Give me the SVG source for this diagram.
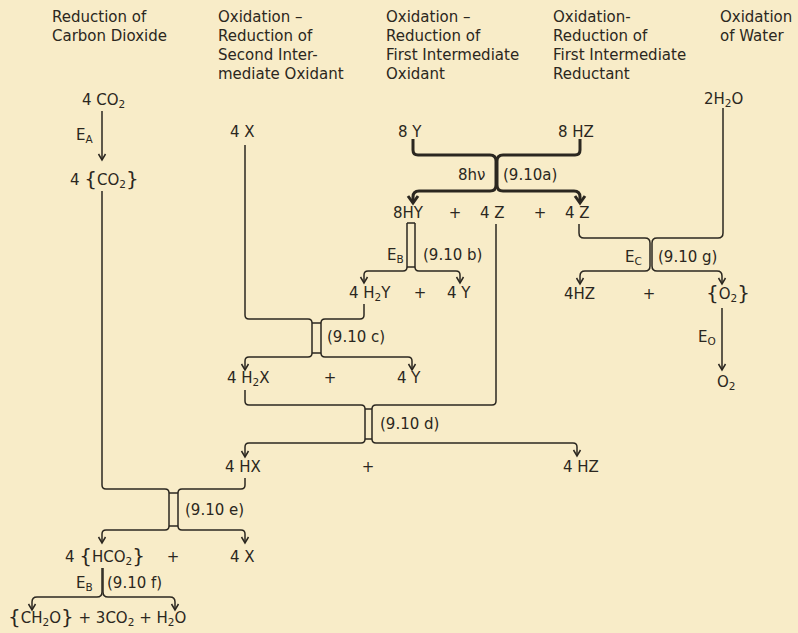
<svg xmlns="http://www.w3.org/2000/svg" width="798" height="633" viewBox="0 0 798 633">
<style>
text{font-family:"DejaVu Sans","Liberation Sans",sans-serif;fill:#2b2720}
.h{font-size:15px}
.c{font-size:15px}
.s{font-size:10.5px}
.b{font-size:20px}
.ln{fill:none;stroke:#2b2720;stroke-width:1.5;stroke-linejoin:round}
.tk{fill:none;stroke:#2b2720;stroke-width:3;stroke-linejoin:round}
.a{marker-end:url(#ar)}
.at{marker-end:url(#art)}
</style>
<defs>
<marker id="ar" markerUnits="userSpaceOnUse" markerWidth="12" markerHeight="12" viewBox="-8 -6 10 12" refX="0" refY="0" orient="auto">
<path d="M-6,-3.5 L0,0 L-6,3.5" fill="none" stroke="#2b2720" stroke-width="1.5"/>
</marker>
<marker id="art" markerUnits="userSpaceOnUse" markerWidth="14" markerHeight="14" viewBox="-10 -7 12 14" refX="0" refY="0" orient="auto">
<path d="M-7,-5 L0,0 L-7,5" fill="none" stroke="#2b2720" stroke-width="3"/>
</marker>
</defs>
<rect width="798" height="633" fill="#f8ecc8"/>

<g id="headers">
<text class="h" x="52" y="22">Reduction of</text>
<text class="h" x="52" y="41">Carbon Dioxide</text>
<text class="h" x="218" y="22">Oxidation –</text>
<text class="h" x="218" y="41">Reduction of</text>
<text class="h" x="218" y="60">Second Inter-</text>
<text class="h" x="218" y="79">mediate Oxidant</text>
<text class="h" x="386" y="22">Oxidation –</text>
<text class="h" x="386" y="41">Reduction of</text>
<text class="h" x="386" y="60">First Intermediate</text>
<text class="h" x="386" y="79">Oxidant</text>
<text class="h" x="553" y="22">Oxidation-</text>
<text class="h" x="553" y="41">Reduction of</text>
<text class="h" x="553" y="60">First Intermediate</text>
<text class="h" x="553" y="79">Reductant</text>
<text class="h" x="720" y="22">Oxidation</text>
<text class="h" x="720" y="41">of Water</text>
</g>

<g id="connectors">
<path class="ln a" d="M102,111 V160"/>
<path class="ln a" d="M102,191 V485 Q102,489 106,489 H165 Q169,489 169,493 V526 Q169,530 165,530 H106 Q102,530 102,534 V543"/>
<path class="ln a" d="M245,478 V485 Q245,489 241,489 H182 Q178,489 178,493 V526 Q178,530 182,530 H241 Q245,530 245,534 V543"/>
<path class="ln" d="M169,493 H178 M169,526 H178"/>

<path class="ln a" d="M245,145 V315 Q245,319 249,319 H308 Q312,319 312,323 V353 Q312,357 308,357 H249 Q245,357 245,361 V370"/>
<path class="ln a" d="M364,304 V315 Q364,319 360,319 H325 Q321,319 321,323 V353 Q321,357 325,357 H408 Q412,357 412,361 V370"/>
<path class="ln" d="M312,323 H321 M312,353 H321"/>

<path class="ln a" d="M245,390 V401 Q245,405 249,405 H361 Q365,405 365,409 V439 Q365,443 361,443 H249 Q245,443 245,447 V457"/>
<path class="ln a" d="M496,224 V401 Q496,405 492,405 H376 Q372,405 372,409 V439 Q372,443 376,443 H573 Q577,443 577,447 V456"/>
<path class="ln" d="M365,409 H372 M365,439 H372"/>

<path class="ln a" d="M407,223 V267 Q407,271 403,271 H368 Q364,271 364,275 V283"/>
<path class="ln a" d="M415,223 V267 Q415,271 419,271 H456 Q460,271 460,275 V283"/>
<path class="ln" d="M407,223 H415 M407,267 H415"/>

<path class="tk at" d="M413,139 V150 Q413,155 418,155 H490 Q496,155 496,161 V185 Q496,191 490,191 H419 Q413,191 413,197 V203"/>
<path class="tk at" d="M580,139 V150 Q580,155 575,155 H503 Q497,155 497,161 V185 Q497,191 503,191 H574 Q580,191 580,197 V203"/>

<path class="ln a" d="M579,224 V233 Q579,238 584,238 H645 Q650,238 650,243 V266 Q650,271 645,271 H585 Q580,271 580,276 V284"/>
<path class="ln a" d="M723,108 V233 Q723,238 718,238 H657 Q652,238 652,243 V266 Q652,271 657,271 H717 Q722,271 722,276 V284"/>

<path class="ln a" d="M722,308 V370"/>

<path class="ln a" d="M102,568 V592 Q102,597 97,597 H37 Q32,597 32,602 V610"/>
<path class="ln a" d="M103,568 V592 Q103,597 108,597 H170 Q175,597 175,602 V610"/>
</g>

<g id="n-4co2"><text class="c" x="82" y="105">4 CO<tspan class="s" dy="3">2</tspan></text></g>
<g id="l-ea"><text class="c" x="76" y="140">E<tspan class="s" dy="3">A</tspan></text></g>
<g id="n-4co2b"><text class="c" x="70" y="185">4 <tspan class="b" dy="1">{</tspan><tspan dy="-1">CO</tspan><tspan class="s" dy="3">2</tspan><tspan class="b" dy="-2">}</tspan></text></g>
<g id="n-4x"><text class="c" x="230" y="137">4 X</text></g>
<g id="n-8y"><text class="c" x="398" y="137">8 Y</text></g>
<g id="n-8hz"><text class="c" x="558" y="137">8 HZ</text></g>
<g id="n-2h2o"><text class="c" x="704" y="104">2H<tspan class="s" dy="3">2</tspan><tspan dy="-3">O</tspan></text></g>
<g id="l-a"><text class="c" x="458" y="180">8hν</text><text class="c" x="503" y="180">(9.10a)</text></g>
<g id="n-8hy"><text class="c" x="393" y="218">8HY</text><text class="c" x="455" y="218" text-anchor="middle">+</text></g>
<g id="n-4z1"><text class="c" x="480" y="218">4 Z</text><text class="c" x="540" y="218" text-anchor="middle">+</text></g>
<g id="n-4z2"><text class="c" x="565" y="218">4 Z</text></g>
<g id="l-b"><text class="c" x="387" y="260">E<tspan class="s" dy="3">B</tspan></text><text class="c" x="423" y="260">(9.10 b)</text></g>
<g id="l-g"><text class="c" x="625" y="262">E<tspan class="s" dy="3">C</tspan></text><text class="c" x="658" y="262">(9.10 g)</text></g>
<g id="n-4h2y"><text class="c" x="349" y="298">4 H<tspan class="s" dy="3">2</tspan><tspan dy="-3">Y</tspan></text><text class="c" x="420" y="298" text-anchor="middle">+</text></g>
<g id="n-4y1"><text class="c" x="447" y="298">4 Y</text></g>
<g id="n-4hz1"><text class="c" x="564" y="299">4HZ</text><text class="c" x="649" y="299" text-anchor="middle">+</text></g>
<g id="n-o2b"><text class="c" x="706" y="299"><tspan class="b" dy="1">{</tspan><tspan dy="-1">O</tspan><tspan class="s" dy="3">2</tspan><tspan class="b" dy="-2">}</tspan></text></g>
<g id="l-c"><text class="c" x="327" y="342">(9.10 c)</text></g>
<g id="l-eo"><text class="c" x="698" y="342">E<tspan class="s" dy="3">O</tspan></text></g>
<g id="n-4h2x"><text class="c" x="227" y="383">4 H<tspan class="s" dy="3">2</tspan><tspan dy="-3">X</tspan></text><text class="c" x="330" y="383" text-anchor="middle">+</text></g>
<g id="n-4y2"><text class="c" x="397" y="383">4 Y</text></g>
<g id="n-o2"><text class="c" x="717" y="387">O<tspan class="s" dy="3">2</tspan></text></g>
<g id="l-d"><text class="c" x="380" y="429">(9.10 d)</text></g>
<g id="n-4hx"><text class="c" x="225" y="472">4 HX</text><text class="c" x="368" y="472" text-anchor="middle">+</text></g>
<g id="n-4hz2"><text class="c" x="563" y="472">4 HZ</text></g>
<g id="l-e"><text class="c" x="185" y="515">(9.10 e)</text></g>
<g id="n-hco2"><text class="c" x="65" y="562">4 <tspan class="b" dy="1">{</tspan><tspan dy="-1">HCO</tspan><tspan class="s" dy="3">2</tspan><tspan class="b" dy="-2">}</tspan></text><text class="c" x="173" y="562" text-anchor="middle">+</text></g>
<g id="n-4x2"><text class="c" x="230" y="562">4 X</text></g>
<g id="l-f"><text class="c" x="76" y="588">E<tspan class="s" dy="3">B</tspan></text><text class="c" x="107" y="588">(9.10 f)</text></g>
<g id="n-products"><text class="c" x="8" y="623"><tspan class="b" dy="1">{</tspan><tspan dy="-1">CH</tspan><tspan class="s" dy="3">2</tspan><tspan dy="-3">O</tspan><tspan class="b" dy="1">}</tspan><tspan dy="-1"> + 3CO</tspan><tspan class="s" dy="3">2</tspan><tspan dy="-3"> + H</tspan><tspan class="s" dy="3">2</tspan><tspan dy="-3">O</tspan></text></g>
</svg>
